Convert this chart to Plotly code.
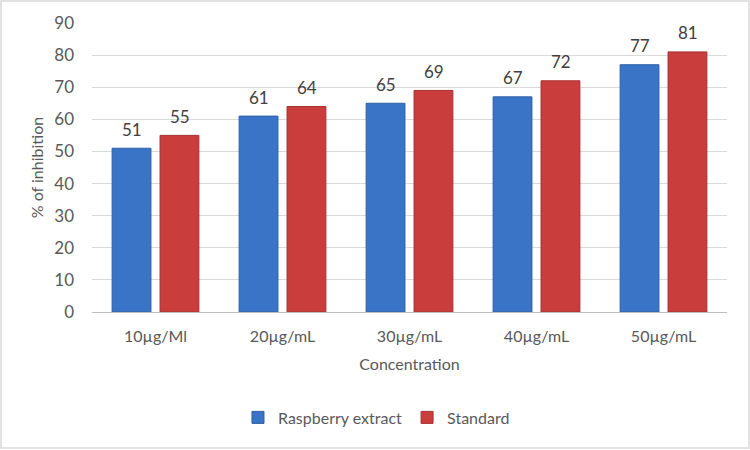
import plotly.graph_objects as go

categories = ["10µg/Ml", "20µg/mL", "30µg/mL", "40µg/mL", "50µg/mL"]
raspberry = [51, 61, 65, 67, 77]
standard = [55, 64, 69, 72, 81]

font_family = "Lato, 'Open Sans', sans-serif"

fig = go.Figure()
fig.add_trace(go.Bar(
    name="Raspberry extract", x=categories, y=raspberry,
    marker=dict(color="#3A74C6", line=dict(color="#2E5FA6", width=1)),
    offsetgroup="a",
))
fig.add_trace(go.Bar(
    name="Standard", x=categories, y=standard,
    marker=dict(color="#C93D3D", line=dict(color="#A53030", width=1)),
    offsetgroup="b",
))

# data labels above each bar
annotations = []
for i, c in enumerate(categories):
    for val, dx in ((raspberry[i], -24), (standard[i], 24)):
        annotations.append(dict(
            x=c, y=val, xref="x", yref="y", text=str(val), showarrow=False,
            xshift=dx, yshift=19, font=dict(size=17, color="#404040", family=font_family),
        ))

fig.update_layout(
    width=750, height=450,
    margin=dict(l=92, r=23, t=23, b=138),
    paper_bgcolor="white", plot_bgcolor="white",
    barmode="group", bargap=0.245, bargroupgap=0.19,
    font=dict(family=font_family, size=16, color="#595959"),
    showlegend=True,
    legend=dict(orientation="h", x=0.448, xanchor="center", y=-0.365, yanchor="middle",
                font=dict(size=16, color="#595959")),
    annotations=annotations,
    xaxis=dict(
        title=dict(text="Concentration", font=dict(size=16, color="#595959"), standoff=14),
        showline=True, linecolor="#BFBFBF", linewidth=1, ticks="",
        tickfont=dict(size=16, color="#595959"), ticklabelstandoff=10,
    ),
    yaxis=dict(
        title=dict(text="% of inhibition", font=dict(size=16, color="#595959"), standoff=6),
        range=[0, 90], dtick=10, showgrid=True, gridcolor="#D9D9D9", gridwidth=1,
        zeroline=False, ticks="", tickfont=dict(size=17, color="#595959"),
        ticklabelstandoff=17,
    ),
    shapes=[dict(type="rect", xref="paper", yref="paper",
                 x0=-91/635, x1=1+22/635, y0=-136/289, y1=1+22/289,
                 line=dict(color="#D9D9D9", width=1.5), fillcolor="rgba(0,0,0,0)", layer="below")],
)

fig.write_html("out.html", config={"displayModeBar": False},
               post_script="document.body.style.margin='0';")
